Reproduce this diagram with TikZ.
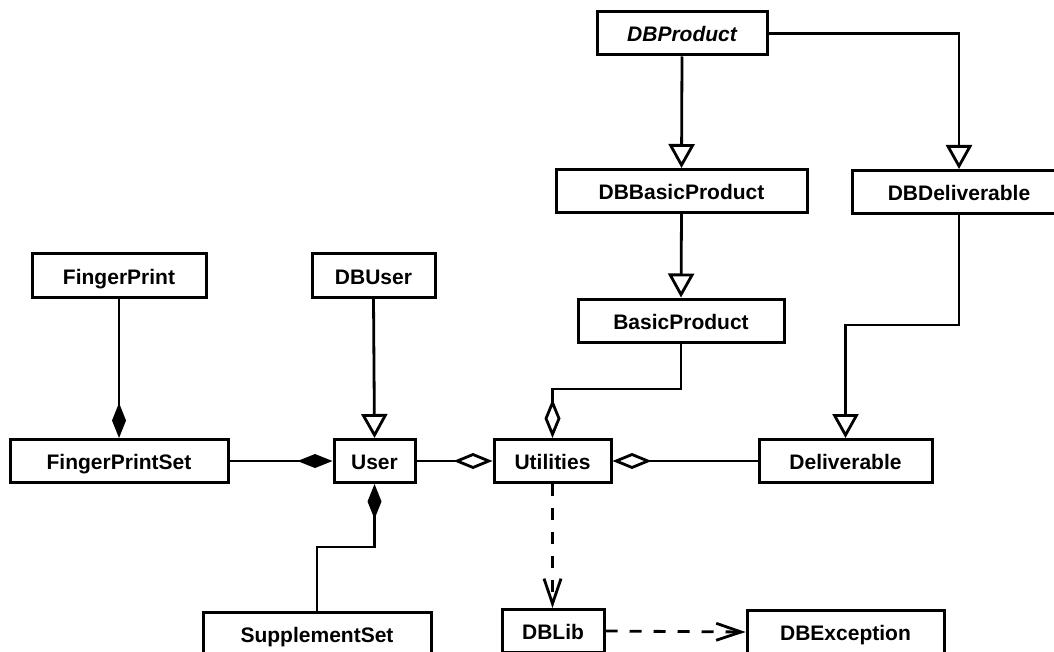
\documentclass[tikz,border=0pt]{standalone}
\usepackage{fontspec}
\setmainfont{Liberation Sans}
\usetikzlibrary{arrows.meta}
\begin{document}
\begin{tikzpicture}[x=1pt,y=-1pt,
  cls/.style={draw, line width=3pt, fill=white, minimum height=43pt,
    inner sep=0pt, text height=17pt, text depth=0pt,
    font=\fontsize{21}{25}\selectfont\bfseries},
  link/.style={line width=2.8pt},
  gen/.style={link, -{Triangle[open, length=24pt, width=26pt]}},
  agg/.style={link, -{Diamond[open, length=39pt, width=16pt]}},
  comp/.style={link, -{Diamond[length=35pt, width=14pt]}},
  dep/.style={link, dash pattern=on 12pt off 12pt,
    -{Straight Barb[length=25pt, width=17pt]}}
]
\useasboundingbox (0,0) rectangle (1054,652);
\clip (0,0) rectangle (1054,652);

% classes
\node[cls, minimum width=170pt] (dbp)   at (682,33.5)  {\itshape DBProduct};
\node[cls, minimum width=251pt] (dbbp)  at (681.5,191) {DBBasicProduct};
\node[cls, minimum width=214pt] (dbd)   at (959,192)   {DBDeliverable};
\node[cls, minimum width=206pt] (bp)    at (681,320.5) {BasicProduct};
\node[cls, minimum width=174pt] (fp)    at (119,275.5) {FingerPrint};
\node[cls, minimum width=123pt] (dbu)   at (373.5,275.5) {DBUser};
\node[cls, minimum width=218pt] (fps)   at (119,461)   {FingerPrintSet};
\node[cls, minimum width=81pt]  (user)  at (374.5,461) {User};
\node[cls, minimum width=117pt] (util)  at (552.5,461) {Utilities};
\node[cls, minimum width=173pt] (deliv) at (845.5,461) {Deliverable};
\node[cls, minimum width=228pt] (sup)   at (317,634)   {SupplementSet};
\node[cls, minimum width=102pt] (dblib) at (553,631)   {DBLib};
\node[cls, minimum width=197pt] (dbex)  at (845.5,632) {DBException};

% generalizations
\draw[gen] (dbp.south) -- (dbbp.north);
\draw[gen] (dbp.east) -| (dbd.north);
\draw[gen] (dbbp.south) -- (bp.north);
\draw[gen] (dbd.south) -- (dbd.south |- 0,325) -| (deliv.north);
\draw[gen] (dbu.south) -- (user.north);

% aggregations
\draw[agg] (bp.south) -- (bp.south |- 0,389) -| (util.north);
\draw[agg] (user.east) -- (util.west);
\draw[agg] (deliv.west) -- (util.east);

% compositions
\draw[comp] (fp.south) -- (fps.north);
\draw[comp] (fps.east) -- (user.west);
\draw[comp] (sup.north) -- (sup.north |- 0,547) -| (user.south);

% dependencies
\draw[dep] (util.south) -- (util.south |- dblib.north);
\draw[dep] (dblib.east) -- (dbex.west);
\end{tikzpicture}
\end{document}
